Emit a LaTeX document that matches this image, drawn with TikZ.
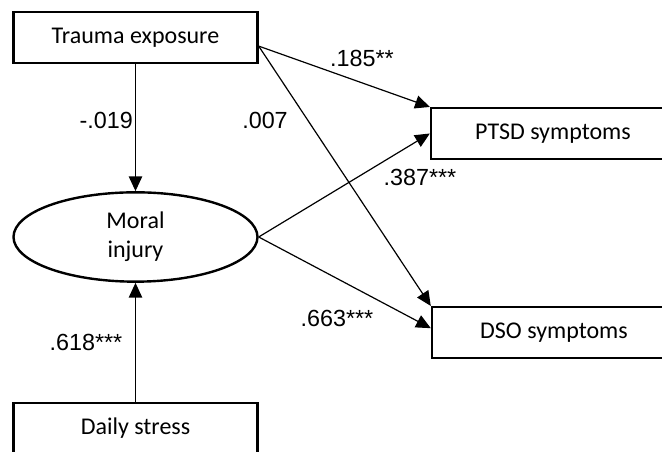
\documentclass[tikz,border=0pt]{standalone}
\usepackage{fontspec}
\setmainfont{Carlito}
\setsansfont{Liberation Sans}
\usetikzlibrary{arrows.meta, shapes.geometric}

\begin{document}
\begin{tikzpicture}[x = 0.75pt, y = 0.75pt,
  var/.style = {draw, line width = 1.8pt, minimum width = 183pt, minimum height = 38pt, inner sep = 0pt, font = \fontsize{18}{21}\selectfont},
  latent/.style = {draw, ellipse, line width = 1.8pt, minimum width = 183pt, minimum height = 67pt, inner sep = 0pt, align = center, font = \fontsize{18}{22}\selectfont},
  effect/.style = {-{Triangle[length = 11pt, width = 10pt]}, line width = 0.9pt},
  coef/.style = {font = \sffamily\fontsize{17.5}{20}\selectfont, inner sep = 0pt}]

 \useasboundingbox (0, 0) rectangle (662, 452);

 % observed and latent variables
 \node[var] (trauma) at (135.5, 414.5) {Trauma exposure};
 \node[latent] (moral) at (135.5, 215) {Moral\\injury};
 \node[var] (daily) at (135.5, 23.5) {Daily stress};
 \node[var] (ptsd) at (553, 318.5) {PTSD symptoms};
 \node[var] (dso) at (554, 119.5) {DSO symptoms};

 % paths
 \draw[effect] (trauma) -- (moral);
 \draw[effect] (daily) -- (moral);
 \draw[effect] (trauma.-4.5) -- (ptsd.north west);
 \draw[effect] (trauma.-4.5) -- (dso.north west);
 \draw[effect] (moral.east) -- (ptsd.west);
 \draw[effect] (moral.east) -- (dso.178);

 % coefficients
 \node[coef, anchor = east] (c-tm) at (133, 332) {-.019};
 \node[coef] (c-td) at (265, 332) {.007};
 \node[coef] (c-tp) at (362, 394) {.185**};
 \node[coef] (c-mp) at (420, 275) {.387***};
 \node[coef] (c-md) at (337, 134) {.663***};
 \node[coef] (c-dm) at (86, 110) {.618***};
\end{tikzpicture}
\end{document}
